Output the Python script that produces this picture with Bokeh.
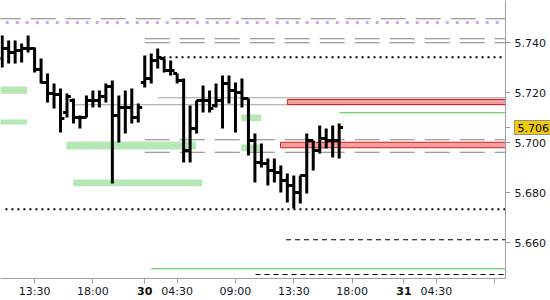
from bokeh.plotting import figure
from bokeh.models import FixedTicker, Range1d, NumeralTickFormatter, Label
from bokeh.embed import file_html
from bokeh.resources import INLINE

# ---- OHLC data (30-minute bars, index-based x axis) ----
opens = [5.7336, 5.7376, 5.7360, 5.7368, 5.7376, 5.7376, 5.7292, 5.7240, 5.7196, 5.7192,
         5.7120, 5.7168, 5.7100, 5.7100, 5.7168, 5.7168, 5.7184, 5.7224, 5.7108, 5.7140,
         5.7140, 5.7100, 5.7240, 5.7256, 5.7328, 5.7336, 5.7288, 5.7276, 5.7248, 5.6968,
         5.7056, 5.7168, 5.7168, 5.7148, 5.7168, 5.7236, 5.7208, 5.7200, 5.7176, 5.7008,
         5.6920, 5.6916, 5.6888, 5.6880, 5.6848, 5.6828, 5.6800, 5.6868, 5.7008, 5.6968,
         5.7016, 5.7008, 5.7008]
highs = [5.7428, 5.7408, 5.7408, 5.7396, 5.7428, 5.7380, 5.7336, 5.7276, 5.7236, 5.7216,
         5.7196, 5.7176, 5.7108, 5.7188, 5.7208, 5.7208, 5.7236, 5.7248, 5.7188, 5.7208,
         5.7216, 5.7156, 5.7348, 5.7356, 5.7376, 5.7336, 5.7328, 5.7276, 5.7256, 5.7148,
         5.7168, 5.7228, 5.7208, 5.7236, 5.7268, 5.7268, 5.7240, 5.7256, 5.7176, 5.7036,
         5.6996, 5.6936, 5.6936, 5.6908, 5.6876, 5.6868, 5.6868, 5.7036, 5.7008, 5.7068,
         5.7056, 5.7068, 5.7076]
lows = [5.7300, 5.7316, 5.7316, 5.7320, 5.7360, 5.7280, 5.7236, 5.7160, 5.7136, 5.7040,
        5.7100, 5.7076, 5.7056, 5.7100, 5.7140, 5.7140, 5.7160, 5.6836, 5.7000, 5.7036,
        5.7076, 5.7080, 5.7220, 5.7236, 5.7296, 5.7280, 5.7268, 5.7236, 5.6920, 5.6920,
        5.7036, 5.7120, 5.7120, 5.7140, 5.7056, 5.7156, 5.7040, 5.7140, 5.6948, 5.6840,
        5.6900, 5.6828, 5.6840, 5.6800, 5.6760, 5.6736, 5.6756, 5.6796, 5.6888, 5.6956,
        5.6976, 5.6940, 5.6936]
closes = [5.7376, 5.7360, 5.7368, 5.7376, 5.7376, 5.7292, 5.7240, 5.7196, 5.7192, 5.7096,
          5.7184, 5.7100, 5.7100, 5.7168, 5.7168, 5.7184, 5.7224, 5.7108, 5.7140, 5.7140,
          5.7100, 5.7140, 5.7256, 5.7328, 5.7340, 5.7288, 5.7288, 5.7248, 5.6968, 5.7056,
          5.7168, 5.7168, 5.7136, 5.7168, 5.7236, 5.7208, 5.7200, 5.7176, 5.7008, 5.6920,
          5.6916, 5.6888, 5.6880, 5.6848, 5.6828, 5.6800, 5.6868, 5.7008, 5.6968, 5.7016,
          5.7008, 5.7008, 5.7060]
last_price = 5.706

# ---- axis ticks ----
x_ticks = [5, 14, 22, 27, 36, 45, 54, 62, 67, 76]
x_labels = ["13:30", "18:00", "30", "04:30", "09:00", "13:30", "18:00", "31", "04:30", ""]
x_bold = ["30", "31"]
y_ticks = [5.66, 5.68, 5.70, 5.72, 5.74]

# ---- levels / zones ----
gray_dash_levels = [5.7495, 5.7415, 5.7399, 5.7011, 5.6961]
gray_dash_starts = [-1.0, 22.0, 22.0, 22.0, 22.0]
purple_level = [5.7480]
purple_start = [-1.0]
black_dot_levels = [5.7341, 5.6733]
black_dot_starts = [24.9, 0.5]
gray_solid_levels = [5.7179, 5.7151]
gray_solid_starts = [24.0, 11.2]
green_levels = [5.7119, 5.6495]
green_starts = [52.05, 23.0]
black_dash_levels = [5.6611, 5.6472]
black_dash_starts = [43.8, 39.1]
red_top = [5.7172, 5.7001]
red_bottom = [5.7152, 5.6979]
red_left = [44.0, 42.95]
green_zone_left = [-1.0, -1.0, 9.92, 10.96, 36.9, 36.9]
green_zone_right = [3.86, 3.86, 29.94, 30.86, 39.97, 39.75]
green_zone_top = [5.7224, 5.7092, 5.7004, 5.6852, 5.7112, 5.6992]
green_zone_bottom = [5.7195, 5.7072, 5.6972, 5.6825, 5.7085, 5.6965]

# plotting area (in data units): x from X0 to X1, price from Y0 to Y1
X0, X1 = -0.26, 77.67
Y0, Y1 = 5.6456, 5.7568
W, H = 550, 300
PW, PH = 505.0, 278.0
px_per_idx = PW / (X1 - X0)
px_per_price = PH / (Y1 - Y0)
XE = X0 + W / px_per_idx
YB = Y1 - H / px_per_price

p = figure(width=W, height=H, output_backend="svg", toolbar_location=None,
           x_range=Range1d(X0, XE), y_range=Range1d(YB, Y1),
           y_axis_location="right", min_border=0,
           min_border_left=0, min_border_top=0, min_border_right=0, min_border_bottom=0)
p.outline_line_color = None
p.grid.visible = False
p.background_fill_color = "white"
p.border_fill_color = "white"

# zones
p.quad(left=green_zone_left, right=green_zone_right, top=green_zone_top,
       bottom=green_zone_bottom, fill_color="#b6e8b6", line_color=None)

def hlines(levels, starts, **kw):
    p.segment(x0=starts, y0=levels, x1=[X1] * len(levels), y1=levels, **kw)

hlines(gray_dash_levels, gray_dash_starts, line_color="#808080", line_width=1, line_dash="25 10")
hlines(purple_level, purple_start, line_color="#cfa4f0", line_width=3, line_dash="3 7")
hlines(black_dot_levels, black_dot_starts, line_color="black", line_width=2, line_dash="2 4")
hlines(gray_solid_levels, gray_solid_starts, line_color="#a0a0a0", line_width=1)
hlines(green_levels, green_starts, line_color="#3ccc3c", line_width=1)
hlines(black_dash_levels, black_dash_starts, line_color="black", line_width=1, line_dash="5 4")

p.quad(left=red_left, right=[X1] * len(red_left), top=red_top, bottom=red_bottom,
       fill_color="#f2a0a0", line_color="#e01818", line_width=1)

# OHLC bars
idx = list(range(len(opens)))
tick = 0.6
p.segment(x0=idx, y0=lows, x1=idx, y1=highs, line_color="black", line_width=3)
p.segment(x0=[i - tick for i in idx], y0=opens, x1=idx, y1=opens, line_color="black", line_width=3)
p.segment(x0=idx, y0=closes, x1=[i + tick for i in idx], y1=closes, line_color="black", line_width=3)

# axes, fixed at the edges of the plotting area
for ax in (p.xaxis[0], p.yaxis[0]):
    ax.axis_line_color = "#a0a0a0"
    ax.major_tick_line_color = "#a0a0a0"
    ax.major_tick_in = 0
    ax.major_tick_out = 5
    ax.minor_tick_line_color = None
    ax.major_label_text_font = "DejaVu Sans"
    ax.major_label_text_font_size = "11px"
    ax.major_label_text_color = "#101828"

p.xaxis.fixed_location = Y0
p.xaxis.bounds = (X0, X1)
p.xaxis.ticker = FixedTicker(ticks=x_ticks)
p.xaxis.major_label_overrides = {t: ("" if lab in x_bold else lab) for t, lab in zip(x_ticks, x_labels)}
p.xaxis.major_label_standoff = 1

p.yaxis.fixed_location = X1
p.yaxis.bounds = (Y0, Y1)
p.yaxis.ticker = FixedTicker(ticks=y_ticks + [last_price])
p.yaxis.formatter = NumeralTickFormatter(format="0.000")
p.yaxis.major_label_overrides = {last_price: ""}
p.yaxis.major_label_standoff = 4

label_y = Y0 - 12.0 / px_per_price
for t, lab in zip(x_ticks, x_labels):
    if lab in x_bold:
        p.add_layout(Label(x=t, y=label_y, text=lab, text_align="center", text_baseline="middle",
                           text_font="DejaVu Sans", text_font_size="11px", text_font_style="bold",
                           text_color="#101010"))

p.add_layout(Label(x=X1 + 9.0 / px_per_idx, y=last_price, text=f"{last_price:.3f}",
                   text_align="left", text_baseline="middle", text_font="DejaVu Sans",
                   text_font_size="11px", text_color="black",
                   background_fill_color="#f2cc0c", background_fill_alpha=1.0,
                   border_line_color="#909090", border_line_width=1, padding=3))

open("out.html", "w").write(file_html(p, INLINE))
